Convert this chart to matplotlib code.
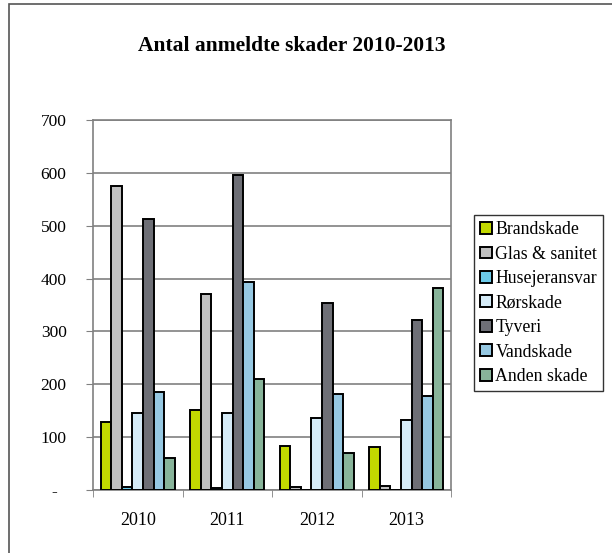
import matplotlib.pyplot as plt
import matplotlib.patches as mpatches
import numpy as np

# Data
years = ['2010', '2011', '2012', '2013']
series_names = ['Brandskade', 'Glas & sanitet', 'Husejeransvar', 'Rørskade',
                'Tyveri', 'Vandskade', 'Anden skade']
brandskade = [128, 151, 83, 82]
glas_sanitet = [575, 370, 6, 7]
husejeransvar = [6, 3, 0, 0]
roerskade = [145, 145, 136, 132]
tyveri = [513, 596, 353, 322]
vandskade = [185, 394, 181, 178]
anden_skade = [60, 210, 70, 382]
yticks = [0, 100, 200, 300, 400, 500, 600, 700]
ytick_labels = ['-  ', '100', '200', '300', '400', '500', '600', '700']

colors = ['#C2D800', '#C0C0C0', '#6CCBEA', '#D5EBF7', '#6E6F76', '#96C8E2', '#88B49A']
values = [brandskade, glas_sanitet, husejeransvar, roerskade, tyveri, vandskade, anden_skade]

plt.rcParams['font.family'] = ['Liberation Serif', 'DejaVu Serif']

fig = plt.figure(figsize=(6.12, 5.53), dpi=100)
W, H = 612, 553

# outer chart frame (only top and left edges are visible)
fig.patches.append(mpatches.Rectangle((9 / W, -0.2), 1.2, (H - 4) / H + 0.2,
                                      transform=fig.transFigure, fill=False,
                                      edgecolor='#555555', linewidth=1.2))

ax = fig.add_axes([93 / W, 1 - 490 / H, (451 - 93) / W, (490 - 120) / H])

x = np.arange(len(years))
n = len(values)
bw = 0.83 / n
for i, (vals, c, name) in enumerate(zip(values, colors, series_names)):
    ax.bar(x - 0.415 + bw * (i + 0.5), vals, bw, color=c, edgecolor='black',
           linewidth=1.4, label=name, zorder=3)

ax.set_xlim(-0.5, len(years) - 0.5)
ax.set_ylim(0, 700)
ax.set_yticks(yticks)
ax.set_yticklabels(ytick_labels, fontsize=12.5)
ax.set_xticks(x)
ax.set_xticklabels(years, fontsize=13)
ax.set_xticks(np.arange(len(years) + 1) - 0.5, minor=True)
ax.tick_params(axis='x', which='major', length=0, pad=16)
ax.tick_params(axis='x', which='minor', length=5, color='#808080', direction='out')
ax.tick_params(axis='y', length=5, color='#808080', direction='out', pad=14)
ax.grid(axis='y', color='#808080', linewidth=1.2, zorder=0)
for s in ax.spines.values():
    s.set_color('#808080')
    s.set_linewidth(1.2)

fig.text(292 / W, 1 - 46 / H, 'Antal anmeldte skader 2010-2013', ha='center', va='center',
         fontsize=15.5, fontweight='bold')

leg = fig.legend(loc='upper left', bbox_to_anchor=(474 / W, 1 - 215 / H), fontsize=12.8,
                 frameon=True, fancybox=False, edgecolor='black', handlelength=0.65,
                 handleheight=0.65, handletextpad=0.2, labelspacing=0.42, borderpad=0.35,
                 borderaxespad=0)
leg.get_frame().set_linewidth(1.0)

plt.savefig('out.png', dpi=100)
